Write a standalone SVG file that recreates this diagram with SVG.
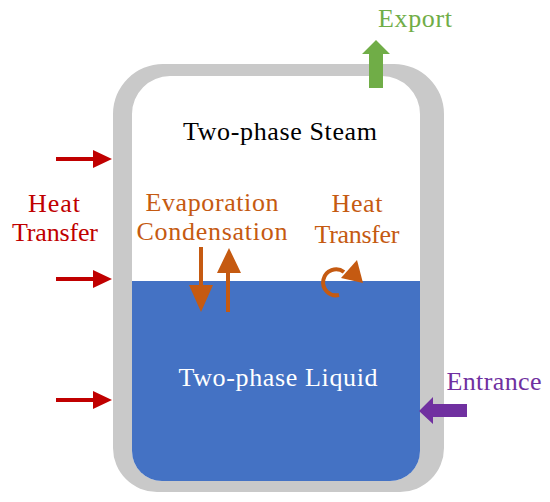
<svg xmlns="http://www.w3.org/2000/svg" width="550" height="502" viewBox="0 0 550 502">
<style>
text{font-family:"Liberation Serif","Times New Roman",serif;font-size:26px}
.red{fill:#C00000}
.org{fill:#C55A11}
.wall{fill:#C9C9C9}
</style>
<rect width="550" height="502" fill="#fff"/>
<g id="vessel">
<path class="wall" fill-rule="evenodd" d="M163,64 H394 A50,50 0 0 1 444,114 V448 A44,44 0 0 1 400,492 H157 A44,44 0 0 1 113,448 V114 A50,50 0 0 1 163,64 Z M170,76 H382 A38,38 0 0 1 420,114 V451 A30,30 0 0 1 390,481 H162 A30,30 0 0 1 132,451 V114 A38,38 0 0 1 170,76 Z"/>
<path id="liquid" fill="#4472C4" d="M132,281 H420 V451 A30,30 0 0 1 390,481 H162 A30,30 0 0 1 132,451 Z"/>
</g>
<g id="steam-label"><text x="280" y="140" text-anchor="middle" fill="#000" textLength="194" lengthAdjust="spacing">Two-phase Steam</text></g>
<g id="liquid-label"><text x="278" y="386" text-anchor="middle" fill="#fff" textLength="199" lengthAdjust="spacing">Two-phase Liquid</text></g>
<g id="export">
<text x="415" y="27" text-anchor="middle" fill="#70AD47" textLength="74" lengthAdjust="spacing">Export</text>
</g>
<g id="heat-left">
<text class="red" x="54" y="212" text-anchor="middle" textLength="52" lengthAdjust="spacing">Heat</text>
<text class="red" x="55" y="241" text-anchor="middle" textLength="86" lengthAdjust="spacing">Transfer</text>
</g>
<g id="evap">
<text class="org" x="212" y="211" text-anchor="middle" textLength="133" lengthAdjust="spacing">Evaporation</text>
<text class="org" x="212" y="240" text-anchor="middle" textLength="151" lengthAdjust="spacing">Condensation</text>
</g>
<g id="heat-right">
<text class="org" x="357" y="212" text-anchor="middle" textLength="51" lengthAdjust="spacing">Heat</text>
<text class="org" x="357" y="243" text-anchor="middle" textLength="85" lengthAdjust="spacing">Transfer</text>
</g>
<g id="entrance">
<text x="494" y="390" text-anchor="middle" fill="#7030A0" textLength="95" lengthAdjust="spacing">Entrance</text>
</g>
<g id="connectors">
<polygon fill="#70AD47" points="369,88 383,88 383,54 390,54 376,40 362,54 369,54"/>
<g class="red">
<polygon points="56,157 93,157 93,150 112,159 93,168 93,161 56,161"/>
<polygon points="56,277 93,277 93,270 112,279 93,288 93,281 56,281"/>
<polygon points="56,398 93,398 93,391 112,400 93,409 93,402 56,402"/>
</g>
<g class="org">
<polygon points="199,247 203,247 203,285 213,285 201,312 189,285 199,285"/>
<polygon points="226,312 230,312 230,273 241,273 229,248 217,273 226,273"/>
<path d="M339,295 A13,13 0 1 1 344,272" fill="none" stroke="#C55A11" stroke-width="4"/>
<polygon points="341,278 357,260 363,283"/>
</g>
<polygon fill="#7030A0" points="467,404 433,404 433,397 419,411 433,424 433,417 467,417"/>
</g>
</svg>
